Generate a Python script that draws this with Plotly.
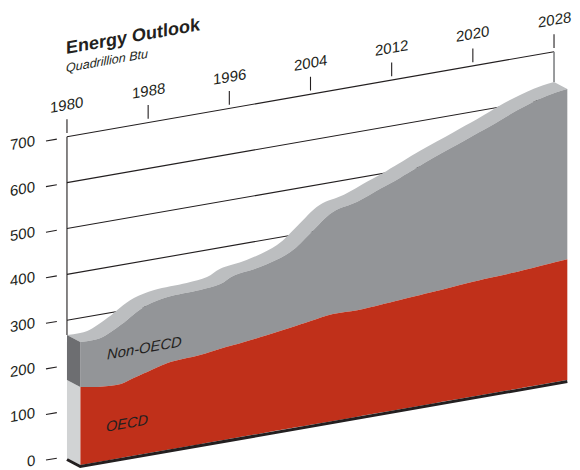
import plotly.graph_objects as go

# ---- data ----
years = [1980, 1982, 1984, 1985.2, 1986.6, 1988.6, 1991.8, 1993.8, 1995.1, 1997.7, 2000.7,
         2002.7, 2004.9, 2007.3, 2009.6, 2011.5, 2014.8, 2018.1, 2020.4, 2023.1, 2026, 2028]
oecd = [170, 163, 161, 169, 177, 189, 194, 200, 203, 210, 219,
        226, 233, 232, 235, 238, 243, 249, 252, 255, 260, 263]
total = [268, 269, 290, 307, 323, 333, 336, 341, 354, 363, 384,
         418, 455, 468, 488, 504, 535, 563, 582, 607, 627, 634]
y_ticks = [0, 100, 200, 300, 400, 500, 600, 700]
grid_values = [300, 400, 500, 600, 700]
x_ticks = [1980, 1988, 1996, 2004, 2012, 2020, 2028]

title = "Energy Outlook"
subtitle = "Quadrillion Btu"

# ---- pseudo-3D projection ----
SHEAR = 3.857      # value units per year: rises the plane to the right
DX, DV = 1.31, 15.25   # depth offset between back and front plane
ANGLE = -10
SMOOTH = 1.0
Y0, Y1 = years[0], years[-1]
TOP = y_ticks[-1]


def sy(year, v):
    return v + SHEAR * (year - Y0)


def back(ys, vs):
    return list(ys), [sy(a, b) for a, b in zip(ys, vs)]


def front(ys, vs):
    return [a + DX for a in ys], [sy(a, b) - DV for a, b in zip(ys, vs)]


RED, GRAY, TOPC = "#c0301a", "#939598", "#bcbec0"
SIDE_D, SIDE_L, INK = "#6d6e71", "#d1d3d4", "#231f20"

fig = go.Figure()


def line(xy, color=INK, width=1.1):
    fig.add_trace(go.Scatter(x=xy[0], y=xy[1], mode="lines", line=dict(color=color, width=width),
                             hoverinfo="skip", showlegend=False))


def poly(xs, ys, color):
    fig.add_trace(go.Scatter(x=xs, y=ys, mode="lines", fill="toself", fillcolor=color,
                             line=dict(width=0), hoverinfo="skip", showlegend=False))


def band(lower, upper, color):
    fig.add_trace(go.Scatter(x=lower[0], y=lower[1], mode="lines",
                             line=dict(width=0, shape="spline", smoothing=SMOOTH),
                             hoverinfo="skip", showlegend=False))
    fig.add_trace(go.Scatter(x=upper[0], y=upper[1], mode="lines", fill="tonexty", fillcolor=color,
                             line=dict(width=0, shape="spline", smoothing=SMOOTH),
                             hoverinfo="skip", showlegend=False))


# gridlines and y tick dashes (the dashes sit slightly tighter than the planes)
for v in grid_values:
    line(back([Y0, Y1], [v, v]))
for v in y_ticks:
    w = 3.5 + v * 0.993
    line(back([Y0 - 2.07, Y0 - 1.0], [w, w]))
# top x ticks
for yr in x_ticks:
    line(back([yr, yr], [TOP + 8, TOP + 38]))
# verticals at both ends
line(back([Y0, Y0], [TOP, total[0]]))
line(back([Y1, Y1], [TOP, total[-1]]), color="#808285", width=1.6)

# top surface
band(front(years, total), back(years, total), TOPC)
# front areas
band(front(years, oecd), front(years, total), GRAY)
band(front(years, [0] * len(years)), front(years, oecd), RED)

# left side faces
bx, by = back([Y0, Y0], [0, oecd[0]])
fx, fy = front([Y0, Y0], [oecd[0], 0])
poly(bx + fx + bx[:1], by + fy + by[:1], SIDE_L)
bx, by = back([Y0, Y0], [oecd[0], total[0]])
fx, fy = front([Y0, Y0], [total[0], oecd[0]])
poly(bx + fx + bx[:1], by + fy + by[:1], SIDE_D)

# dark base strip
bx, by = back([Y0], [-3.3])
fx, fy = front([Y0, Y1], [-3.3, -3.3])
line((bx + fx, by + fy), width=3)

FONT = "Liberation Sans, Arial, sans-serif"
ann = []


def text(s, x, y, size, style="normal", weight="normal", **kw):
    ann.append(dict(text=s, x=x, y=y, xref="x", yref="y", showarrow=False, textangle=ANGLE,
                    font=dict(family=FONT, size=size, color=INK, style=style, weight=weight), **kw))


for yr in x_ticks:
    text(str(yr), yr, sy(yr, TOP + 70), 15)
for v in y_ticks:
    text(str(v), Y0 - 2.8, sy(Y0 - 4.1, 11.5 + v * 0.9876), 15, xanchor="right")
text(title, 1986.6, 919, 18, weight="bold")
text(subtitle, 1983.9, 866, 12.5, style="italic")
text("Non-OECD", 1987.6, 240, 14.8, style="italic")
text("OECD", 1986, 76, 14.6, style="italic")

fig.update_layout(
    width=580, height=470, margin=dict(l=0, r=0, t=0, b=0),
    paper_bgcolor="white", plot_bgcolor="white", showlegend=False, annotations=ann,
    xaxis=dict(range=[1973.4, 2030.56], visible=False, fixedrange=True),
    yaxis=dict(range=[-26.1, 997.8], visible=False, fixedrange=True),
)

# The reference's texts are sheared with the plane, not rotated: swap each rotate for a skew.
SKEW_JS = """
document.body.style.margin = '0';
document.querySelectorAll('.annotation-text-g').forEach(function (g) {
  var t = g.getAttribute('transform') || '';
  var m = t.match(/rotate\\(([-\\d.]+)[ ,]+([-\\d.]+)[ ,]+([-\\d.]+)\\)/);
  if (m) {
    g.setAttribute('transform', 'translate(' + m[2] + ',' + m[3] + ') skewY(' + m[1] + ') translate(' + (-m[2]) + ',' + (-m[3]) + ')');
  }
});
"""
fig.write_html("out.html", config=dict(displayModeBar=False), post_script=SKEW_JS)
